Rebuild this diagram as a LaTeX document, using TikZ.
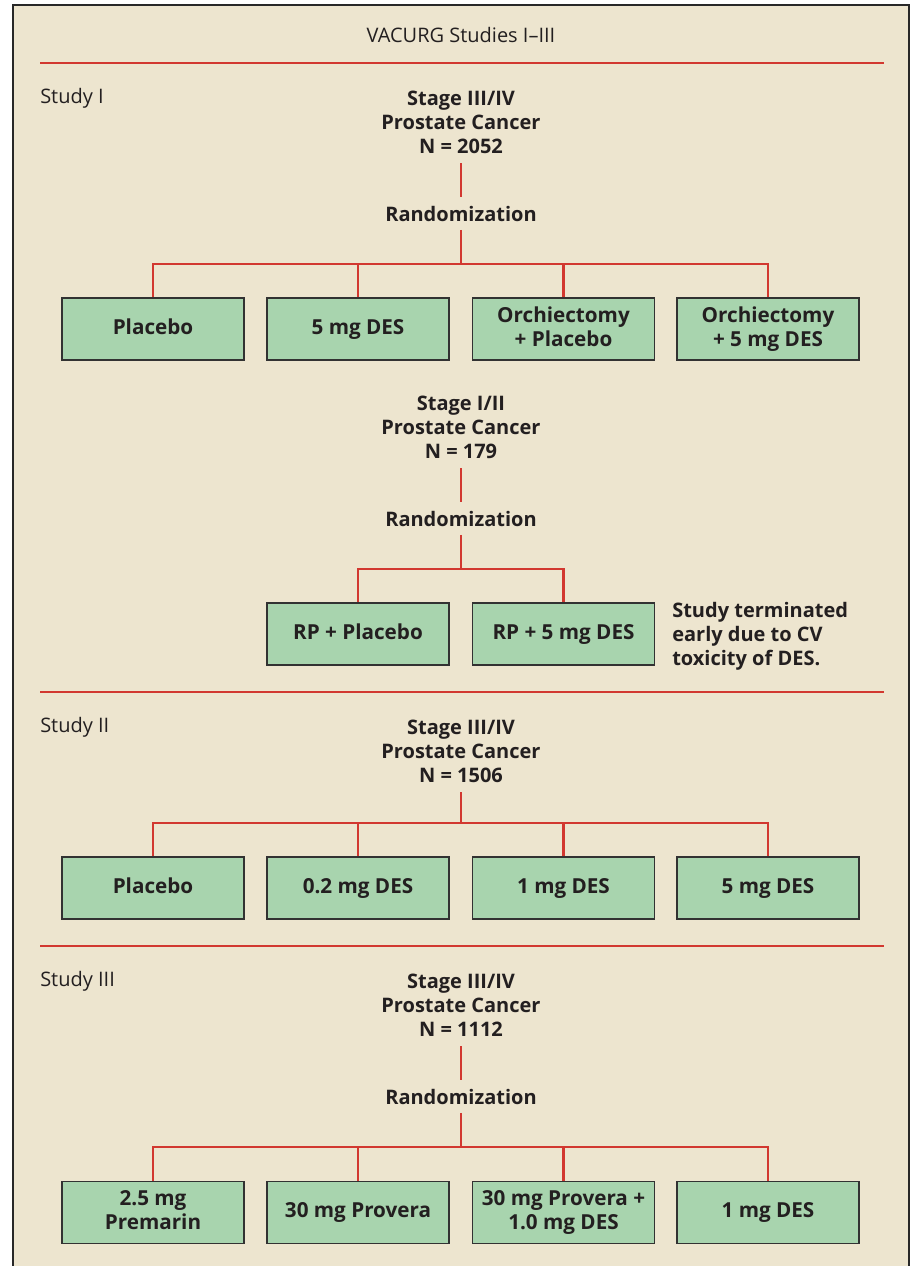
\documentclass[tikz,border=0pt]{standalone}
\usepackage{fontspec}
\setmainfont{Open Sans}
\definecolor{cream}{RGB}{237,229,207}
\definecolor{boxgreen}{RGB}{168,212,174}
\definecolor{vred}{RGB}{210,56,48}
\definecolor{ink}{RGB}{35,31,32}
\definecolor{boxline}{RGB}{50,50,50}
\definecolor{framecol}{RGB}{40,40,40}
\begin{document}
\begin{tikzpicture}[x=0.75pt,y=-0.75pt,
  rline/.style={draw=vred,line width=2pt},
  sepline/.style={draw=vred,line width=2.2pt},
  stem/.style={rline,shorten <=6.75pt,shorten >=7pt},
  txt/.style={inner sep=0pt,text=ink,font=\fontsize{15}{18}\selectfont\bfseries,align=center},
  lbl/.style={inner sep=0pt,text=ink,font=\fontsize{15}{18}\selectfont,anchor=west},
  arm/.style={draw=boxline,fill=boxgreen,line width=1.25pt,minimum width=136.5pt,minimum height=46.5pt,inner sep=2pt,text=ink,font=\fontsize{15.5}{18}\selectfont\bfseries,align=center},
  arm1/.style={arm,text height=0.82em,text depth=0pt},
]
\useasboundingbox (0,0) rectangle (913,1266);
\fill[white] (0,0) rectangle (913,1266);
\fill[cream] (13,5) rectangle (909,1266);
\draw[framecol,line width=2.2pt] (13,1266) -- (13,5) -- (909,5) -- (909,1266);

% title and separators
\node[lbl,anchor=center] (title) at (461,35) {VACURG Studies I–III};
\coordinate (s1a) at (40,63);  \coordinate (s1b) at (884,63);
\coordinate (s2a) at (40,692); \coordinate (s2b) at (884,692);
\coordinate (s3a) at (40,946); \coordinate (s3b) at (884,946);
\draw[sepline] (s1a) -- (s1b);
\draw[sepline] (s2a) -- (s2b);
\draw[sepline] (s3a) -- (s3b);

% ---------- Study I (a)
\node[lbl] (st1) at (40,98) {Study I};
\node[txt,anchor=north] (h1) at (461,91) {Stage III/IV\\Prostate Cancer\\N = 2052};
\node[txt] (r1) at (461,214) {Randomization};
\coordinate (j1) at (461,264);
\draw[stem] (h1) -- (r1);
\draw[rline,shorten <=6pt] (r1) -- (j1);
\node[arm1] (a1) at (153,329) {Placebo};
\node[arm1] (a2) at (358,329) {5 mg DES};
\node[arm] (a3) at (563.5,329) {Orchiectomy\\+ Placebo\vphantom{g}};
\node[arm] (a4) at (768,329) {Orchiectomy\\+ 5 mg DES};
\foreach \b in {a1,a2,a3,a4} \draw[rline] (j1) -| (\b);

% ---------- Study I (b)
\node[txt,anchor=north] (h2) at (461,396) {Stage I/II\\Prostate Cancer\\N = 179};
\node[txt] (r2) at (461,519) {Randomization};
\coordinate (j2) at (461,569);
\draw[stem] (h2) -- (r2);
\draw[rline,shorten <=6pt] (r2) -- (j2);
\node[arm1] (b1) at (358,634) {RP + Placebo};
\node[arm1] (b2) at (563.5,634) {RP + 5 mg DES};
\foreach \b in {b1,b2} \draw[rline] (j2) -| (\b);
\node[txt,align=left,anchor=west] (note) at (672,636) {Study terminated\\early due to CV\\toxicity of DES.};

% ---------- Study II
\node[lbl] (st2) at (40,727) {Study II};
\node[txt,anchor=north] (h3) at (461,720) {Stage III/IV\\Prostate Cancer\\N = 1506};
\coordinate (j3) at (461,823);
\draw[rline,shorten <=6.75pt] (h3) -- (j3);
\node[arm1] (c1) at (153,888) {Placebo};
\node[arm1] (c2) at (358,888) {0.2 mg DES};
\node[arm1] (c3) at (563.5,888) {1 mg DES};
\node[arm1] (c4) at (768,888) {5 mg DES};
\foreach \b in {c1,c2,c3,c4} \draw[rline] (j3) -| (\b);

% ---------- Study III
\node[lbl] (st3) at (40,981) {Study III};
\node[txt,anchor=north] (h4) at (461,974) {Stage III/IV\\Prostate Cancer\\N = 1112};
\node[txt] (r4) at (461,1097) {Randomization};
\coordinate (j4) at (461,1147);
\draw[stem] (h4) -- (r4);
\draw[rline,shorten <=6pt] (r4) -- (j4);
\node[arm] (d1) at (153,1212.5) {2.5 mg\\Premarin\vphantom{g}};
\node[arm1] (d2) at (358,1212.5) {30 mg Provera};
\node[arm] (d3) at (563.5,1212.5) {30 mg Provera +\\1.0 mg DES};
\node[arm1] (d4) at (768,1212.5) {1 mg DES};
\foreach \b in {d1,d2,d3,d4} \draw[rline] (j4) -| (\b);
\end{tikzpicture}
\end{document}
